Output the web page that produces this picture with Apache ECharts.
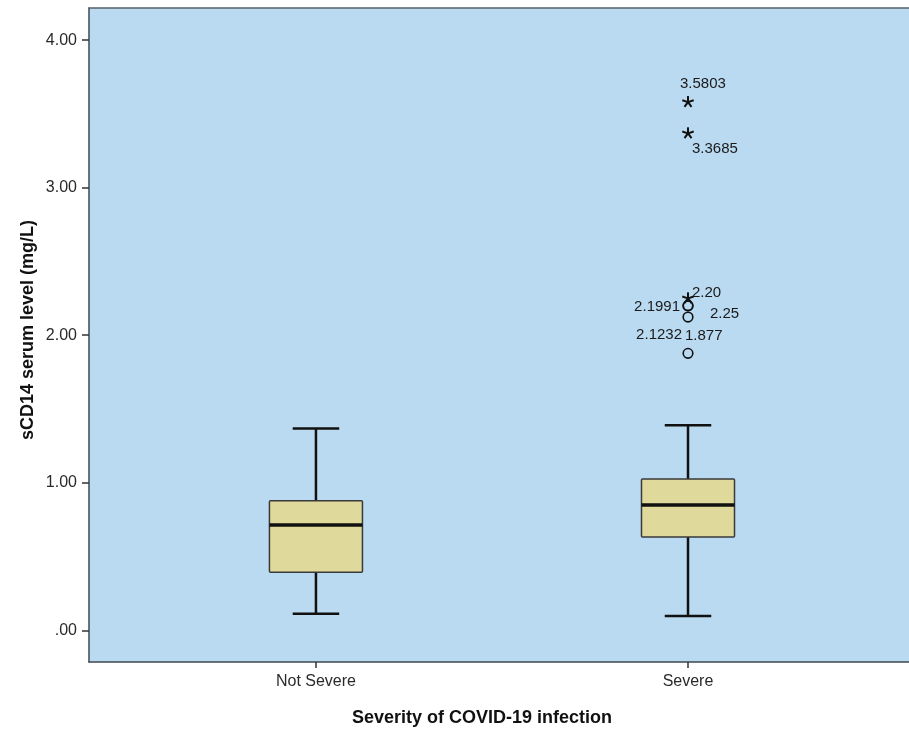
<!DOCTYPE html>
<html>
<head>
<meta charset="utf-8">
<title>sCD14 serum level by severity</title>
<script src="https://cdn.jsdelivr.net/npm/echarts@6/dist/echarts.min.js"></script>
<style>
  html, body { margin: 0; padding: 0; background: #ffffff; }
  #chart { width: 909px; height: 735px; }
</style>
</head>
<body>
<div id="chart"></div>
<script>
// Groups on the horizontal axis
const categories = ['Not Severe', 'Severe'];

// Five-number summaries per group (mg/L)
const whiskerLow = [0.112, 0.097];
const q1 = [0.393, 0.632];
const median = [0.713, 0.849];
const q3 = [0.878, 1.025];
const whiskerHigh = [1.368, 1.390];

// Outlying cases in the Severe group
const outlierValues = [3.5803, 3.3685, 2.25, 2.20, 2.1991, 2.1232, 1.877];
const outlierKinds = ['extreme', 'extreme', 'extreme', 'mild', 'mild', 'mild', 'mild'];
const outlierLabels = ['3.5803', '3.3685', '2.25', '2.20', '2.1991', '2.1232', '1.877'];

// Value axis ticks
const yTicks = [0, 1, 2, 3, 4];
const yTickLabels = ['.00', '1.00', '2.00', '3.00', '4.00'];

const FONT = '"Liberation Sans", Arial, Helvetica, sans-serif';

// label placement around each outlier marker: [dx, dy, align]
const labelPlacement = [
  [-8, -18, 'left'],
  [4, 16, 'left'],
  [22, 16, 'left'],
  [4, -13, 'left'],
  [-8, 1.5, 'right'],
  [-6, 18, 'right'],
  [-3, -18, 'left']
];

const chart = echarts.init(document.getElementById('chart'), null, { renderer: 'canvas' });

const boxData = categories.map((c, i) => [i + 1, whiskerLow[i], q1[i], median[i], q3[i], whiskerHigh[i]]);
const severeIndex = categories.indexOf('Severe') + 1;
const outlierData = outlierValues.map((v, i) => [severeIndex, v, i]);

const BOX_WIDTH = 0.25; // in category units
const INK = '#111111';
const FRAME = '#3e4950';
const X_MIN = 0.39;
const X_MAX = 2.594;

function renderBox(params, api) {
  const x = api.value(0);
  const low = api.coord([x, api.value(1)]);
  const lq = api.coord([x, api.value(2)]);
  const med = api.coord([x, api.value(3)]);
  const uq = api.coord([x, api.value(4)]);
  const high = api.coord([x, api.value(5)]);
  const half = api.size([BOX_WIDTH, 0])[0] / 2;
  const capHalf = half / 2;
  const cx = low[0];
  const line = (x1, y1, x2, y2, w) => ({
    type: 'line',
    shape: { x1, y1, x2, y2 },
    style: { stroke: INK, lineWidth: w }
  });
  return {
    type: 'group',
    children: [
      line(cx, uq[1], cx, high[1], 2.5),
      line(cx, lq[1], cx, low[1], 2.5),
      line(cx - capHalf, high[1], cx + capHalf, high[1], 2.5),
      line(cx - capHalf, low[1], cx + capHalf, low[1], 2.5),
      {
        type: 'rect',
        shape: { x: cx - half, y: uq[1], width: half * 2, height: lq[1] - uq[1], r: 1 },
        style: { fill: '#dfd99b', stroke: '#3a3a3a', lineWidth: 1.5 }
      },
      line(cx - half, med[1], cx + half, med[1], 3.5)
    ]
  };
}

function renderOutlier(params, api) {
  const idx = api.value(2);
  const p = api.coord([api.value(0), api.value(1)]);
  const children = [];
  if (outlierKinds[idx] === 'extreme') {
    const r = 6;
    for (let k = 0; k < 5; k++) {
      const a = -Math.PI / 2 + k * 2 * Math.PI / 5;
      children.push({
        type: 'line',
        shape: { x1: p[0], y1: p[1], x2: p[0] + r * Math.cos(a), y2: p[1] + r * Math.sin(a) },
        style: { stroke: INK, lineWidth: 2 }
      });
    }
  } else {
    children.push({
      type: 'circle',
      shape: { cx: p[0], cy: p[1], r: 4.8 },
      style: { fill: 'none', stroke: INK, lineWidth: 1.6 }
    });
  }
  const pl = labelPlacement[idx];
  children.push({
    type: 'text',
    style: {
      text: outlierLabels[idx],
      x: p[0] + pl[0],
      y: p[1] + pl[1],
      align: pl[2],
      verticalAlign: 'middle',
      fill: '#1a1a1a',
      fontSize: 15,
      fontFamily: FONT
    }
  });
  return { type: 'group', children };
}

chart.setOption({
  backgroundColor: '#ffffff',
  animation: false,
  grid: {
    left: 89,
    top: 8,
    right: 0,
    bottom: 73,
    show: true,
    backgroundColor: '#badaf1',
    borderWidth: 0
  },
  xAxis: [
    {
      type: 'value',
      position: 'bottom',
      min: X_MIN,
      max: X_MAX,
      splitLine: { show: false },
      axisLine: { show: true, onZero: false, lineStyle: { color: FRAME, width: 1.5 } },
      axisTick: {
        show: true,
        length: 6,
        customValues: categories.map((c, i) => i + 1),
        lineStyle: { color: '#333333', width: 1.5 }
      },
      axisLabel: {
        customValues: categories.map((c, i) => i + 1),
        formatter: v => categories[Math.round(v) - 1] || '',
        color: '#2a2a2a',
        fontSize: 16,
        fontFamily: FONT,
        margin: 12
      }
    },
    {
      // top edge of the plot frame
      type: 'value',
      position: 'top',
      min: X_MIN,
      max: X_MAX,
      splitLine: { show: false },
      axisLine: { show: true, onZero: false, lineStyle: { color: '#55626b', width: 1.5 } },
      axisTick: { show: false },
      axisLabel: { show: false }
    }
  ],
  yAxis: {
    type: 'value',
    min: -0.215,
    max: 4.218,
    splitLine: { show: false },
    axisLine: { show: true, onZero: false, lineStyle: { color: FRAME, width: 1.5 } },
    axisTick: {
      show: true,
      length: 7,
      customValues: yTicks,
      lineStyle: { color: '#333333', width: 1.5 }
    },
    axisLabel: {
      customValues: yTicks,
      formatter: v => yTickLabels[yTicks.indexOf(Math.round(v))] || '',
      color: '#2a2a2a',
      fontSize: 16,
      fontFamily: FONT,
      margin: 12
    }
  },
  graphic: [
    {
      type: 'text',
      x: 482,
      y: 718,
      style: {
        text: 'Severity of COVID-19 infection',
        align: 'center',
        verticalAlign: 'middle',
        fill: '#111111',
        fontSize: 18,
        fontWeight: 'bold',
        fontFamily: FONT
      }
    },
    {
      type: 'text',
      x: 28,
      y: 330,
      rotation: Math.PI / 2,
      style: {
        text: 'sCD14 serum level (mg/L)',
        align: 'center',
        verticalAlign: 'middle',
        fill: '#111111',
        fontSize: 18,
        fontWeight: 'bold',
        fontFamily: FONT
      }
    }
  ],
  series: [
    {
      name: 'boxes',
      type: 'custom',
      xAxisIndex: 0,
      renderItem: renderBox,
      data: boxData,
      encode: { x: 0, y: [1, 2, 3, 4, 5] },
      clip: false,
      z: 2
    },
    {
      name: 'outliers',
      type: 'custom',
      xAxisIndex: 0,
      renderItem: renderOutlier,
      data: outlierData,
      encode: { x: 0, y: 1 },
      clip: false,
      z: 3
    }
  ]
});
</script>
</body>
</html>
